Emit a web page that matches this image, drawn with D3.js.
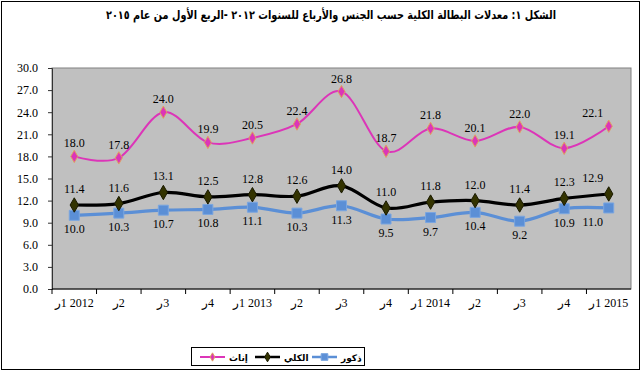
<!DOCTYPE html>
<html>
<head>
<meta charset="utf-8">
<script src="https://cdn.jsdelivr.net/npm/d3@7"></script>
<style>
  html, body { margin: 0; padding: 0; background: #fff; }
  svg { display: block; }
</style>
</head>
<body>
<div id="chart"></div>
<script>
// quarters 2012 Q1 .. 2015 Q1
const quarters = ['ر1 2012', 'ر2', 'ر3', 'ر4', 'ر1 2013', 'ر2', 'ر3', 'ر4', 'ر1 2014', 'ر2', 'ر3', 'ر4', 'ر1 2015']
const females = [18.0, 17.8, 24.0, 19.9, 20.5, 22.4, 26.8, 18.7, 21.8, 20.1, 22.0, 19.1, 22.1]
const total = [11.4, 11.6, 13.1, 12.5, 12.8, 12.6, 14.0, 11.0, 11.8, 12.0, 11.4, 12.3, 12.9]
const males = [10.0, 10.3, 10.7, 10.8, 11.1, 10.3, 11.3, 9.5, 9.7, 10.4, 9.2, 10.9, 11.0]
const yTicks = [0, 3, 6, 9, 12, 15, 18, 21, 24, 27, 30]
const titleText = 'الشكل ١: معدلات البطالة الكلية حسب الجنس والأرباع للسنوات ٢٠١٢ -الربع الأول من عام ٢٠١٥'

const width = 641, height = 371
const plot = {left: 52, right: 631, top: 68, bottom: 289}
const numFont = '"Liberation Serif", "Times New Roman", serif'
const arFont = '"DejaVu Sans", sans-serif'

const svg = d3.select('#chart').append('svg')
  .attr('width', width)
  .attr('height', height)

// outer frame
svg.append('rect')
  .attr('x', 1.5).attr('y', 1.5)
  .attr('width', width - 3).attr('height', height - 3)
  .attr('fill', '#fff')
  .attr('stroke', '#000')

svg.append('text')
  .attr('x', 331).attr('y', 19)
  .attr('text-anchor', 'middle')
  .attr('direction', 'rtl')
  .attr('font-family', arFont)
  .attr('font-weight', 'bold')
  .attr('font-size', 12)
  .attr('textLength', 450)
  .attr('lengthAdjust', 'spacingAndGlyphs')
  .text(titleText)

const x = d3.scaleBand()
  .domain(d3.range(quarters.length))
  .range([plot.left, plot.right])
  .padding(0)
const y = d3.scaleLinear()
  .domain([0, 30])
  .range([plot.bottom, plot.top])
const cx = i => x(i) + x.bandwidth()/2

svg.append('rect')
  .attr('x', plot.left).attr('y', plot.top)
  .attr('width', plot.right - plot.left)
  .attr('height', plot.bottom - plot.top)
  .attr('fill', '#c0c0c0')
  .attr('stroke', '#808080')

// y axis
const yAxis = svg.append('g')
  .attr('transform', `translate(${plot.left},0)`)
  .call(d3.axisLeft(y).tickValues(yTicks).tickFormat(d3.format('.1f')).tickSize(4).tickPadding(10))
yAxis.select('.domain').attr('stroke', '#333')
yAxis.selectAll('.tick line').attr('stroke', '#333')
yAxis.selectAll('text')
  .attr('font-family', numFont)
  .attr('font-size', 12)
  .attr('fill', '#000')

// x axis, ticks between categories
const xAxis = svg.append('g')
  .attr('transform', `translate(0,${plot.bottom})`)
xAxis.append('line')
  .attr('x1', plot.left).attr('x2', plot.right)
  .attr('stroke', '#000')
xAxis.selectAll('line.tk')
  .data(d3.range(quarters.length))
  .enter().append('line')
  .attr('class', 'tk')
  .attr('x1', d => x(d)).attr('x2', d => x(d))
  .attr('y1', 0).attr('y2', 5)
  .attr('stroke', '#000')
xAxis.selectAll('text')
  .data(quarters)
  .enter().append('text')
  .attr('x', (d, i) => cx(i))
  .attr('y', 18)
  .attr('text-anchor', 'middle')
  .attr('direction', 'ltr')
  .attr('unicode-bidi', 'bidi-override')
  .style('unicode-bidi', 'bidi-override')
  .style('direction', 'ltr')
  .attr('font-family', numFont)
  .attr('font-size', 12)
  .text(d => d)

const line = d3.line()
  .x((d, i) => cx(i))
  .y(d => y(d))
  .curve(d3.curveCardinal.tension(0))

const series = [
  {name: 'إناث', values: females, color: '#dc35b8', width: 2, marker: 'diamond', size: 44, fill: '#dc35b8', stroke: '#e0a060', dy: -9},
  {name: 'الكلي', values: total, color: '#000', width: 3.2, marker: 'diamond', size: 60, fill: '#333300', stroke: '#1a1a00', dy: -12},
  {name: 'ذكور', values: males, color: '#5b8fd6', width: 3.2, marker: 'square', size: 100, fill: '#5b8fd6', stroke: '#7aa6e0', dy: 18}
]
const sym = {diamond: d3.symbolDiamond, square: d3.symbolSquare}

// draw back to front: males, total, females
series.slice().reverse().forEach(s => {
  const g = svg.append('g')
  g.append('path')
    .attr('d', line(s.values))
    .attr('fill', 'none')
    .attr('stroke', s.color)
    .attr('stroke-width', s.width)
  g.selectAll('path.pt')
    .data(s.values)
    .enter().append('path')
    .attr('class', 'pt')
    .attr('transform', (d, i) => `translate(${cx(i)},${y(d)})`)
    .attr('d', d3.symbol().type(sym[s.marker]).size(s.size))
    .attr('fill', s.fill)
    .attr('stroke', s.stroke)
    .attr('stroke-width', 1)
  g.selectAll('text')
    .data(s.values)
    .enter().append('text')
    .attr('x', (d, i) => cx(i) - (i === s.values.length - 1 ? 16 : 0))
    .attr('y', d => y(d) + s.dy)
    .attr('text-anchor', 'middle')
    .attr('font-family', numFont)
    .attr('font-size', 12)
    .attr('fill', '#000')
    .text(d => d3.format('.1f')(d))
})

// legend
const lg = svg.append('g')
lg.append('rect')
  .attr('x', 191.5).attr('y', 347.5)
  .attr('width', 173).attr('height', 18)
  .attr('fill', '#fff')
  .attr('stroke', '#000')
const legendX = [200, 255, 312]
series.forEach((s, k) => {
  const lx = legendX[k], ly = 357
  lg.append('line')
    .attr('x1', lx).attr('x2', lx + 25)
    .attr('y1', ly).attr('y2', ly)
    .attr('stroke', s.color)
    .attr('stroke-width', s.width > 2 ? 2.5 : 2)
  lg.append('path')
    .attr('transform', `translate(${lx + 12.5},${ly})`)
    .attr('d', d3.symbol().type(sym[s.marker]).size(s.size * 0.45))
    .attr('fill', s.fill)
    .attr('stroke', s.stroke)
  lg.append('text')
    .attr('x', lx + 29).attr('y', ly + 3.5)
    .attr('direction', 'rtl')
    .attr('text-anchor', 'end')
    .attr('font-family', arFont)
    .attr('font-weight', 'bold')
    .attr('font-size', 9)
    .text(s.name)
})
</script>
</body>
</html>
